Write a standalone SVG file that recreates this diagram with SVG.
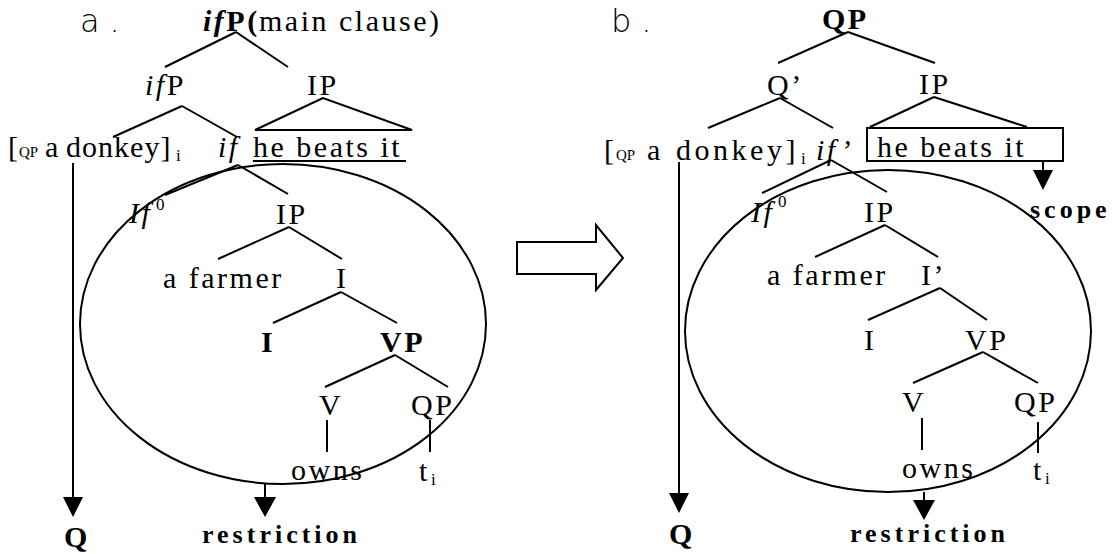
<svg xmlns="http://www.w3.org/2000/svg" width="1114" height="554" viewBox="0 0 1114 554">
<defs>
<style>
.t{font-family:"Liberation Serif",serif;font-size:30px;letter-spacing:2.5px;fill:#000}
.bd{font-weight:bold}
.it{font-style:italic}
.sm{font-size:15px;letter-spacing:0}
.sub{font-size:17px;letter-spacing:0}
.bl{font-family:"Liberation Serif",serif;font-size:26px;letter-spacing:4px;font-weight:bold;fill:#000}
.lab{font-family:"DejaVu Sans","Liberation Sans",sans-serif;font-size:32px;font-weight:200;letter-spacing:10px;fill:#000}
.ln{stroke:#000;stroke-width:2;fill:none}
.hd{fill:#000;stroke:none}
</style>
</defs>
<rect width="1114" height="554" fill="#fff"/>

<g id="connectors">
<!-- panel a -->
<line class="ln" x1="236" y1="32" x2="165" y2="67"/>
<line class="ln" x1="236" y1="32" x2="288" y2="67"/>
<line class="ln" x1="182" y1="106" x2="113" y2="137"/>
<line class="ln" x1="182" y1="106" x2="237" y2="137"/>
<polygon class="ln" points="323,98 255,130 412,130"/>
<line class="ln" x1="238" y1="165" x2="165" y2="195"/>
<line class="ln" x1="238" y1="165" x2="288" y2="194"/>
<line class="ln" x1="289" y1="227" x2="218" y2="259"/>
<line class="ln" x1="289" y1="227" x2="342" y2="259"/>
<line class="ln" x1="341" y1="292" x2="273" y2="323"/>
<line class="ln" x1="341" y1="292" x2="397" y2="323"/>
<line class="ln" x1="395" y1="355" x2="325" y2="387"/>
<line class="ln" x1="395" y1="355" x2="448" y2="387"/>
<line class="ln" x1="327" y1="420" x2="327" y2="452"/>
<line class="ln" x1="430" y1="420" x2="430" y2="452"/>
<line class="ln" x1="73" y1="163" x2="73" y2="498"/>
<polygon class="hd" points="63,497 83,497 73,517"/>
<line class="ln" x1="265" y1="484" x2="265" y2="498"/>
<polygon class="hd" points="254,497 276,497 265,517"/>
<ellipse class="ln" cx="283" cy="324" rx="203" ry="160"/>
<!-- transition arrow -->
<polygon class="ln" points="517,242 596,242 596,225 623,258 596,290 596,274 517,274"/>
<!-- panel b -->
<line class="ln" x1="848" y1="32" x2="778" y2="63"/>
<line class="ln" x1="848" y1="32" x2="935" y2="63"/>
<line class="ln" x1="780" y1="98" x2="708" y2="128"/>
<line class="ln" x1="780" y1="98" x2="833" y2="128"/>
<line class="ln" x1="934" y1="97" x2="870" y2="127"/>
<line class="ln" x1="934" y1="97" x2="1027" y2="127"/>
<rect class="ln" x="867" y="128" width="196" height="33"/>
<line class="ln" x1="831" y1="160" x2="762" y2="193"/>
<line class="ln" x1="831" y1="160" x2="887" y2="192"/>
<line class="ln" x1="885" y1="225" x2="815" y2="257"/>
<line class="ln" x1="885" y1="225" x2="938" y2="257"/>
<line class="ln" x1="940" y1="288" x2="868" y2="320"/>
<line class="ln" x1="940" y1="288" x2="987" y2="320"/>
<line class="ln" x1="983" y1="352" x2="913" y2="383"/>
<line class="ln" x1="983" y1="352" x2="1038" y2="383"/>
<line class="ln" x1="922" y1="418" x2="922" y2="450"/>
<line class="ln" x1="1038" y1="422" x2="1038" y2="453"/>
<line class="ln" x1="679" y1="162" x2="679" y2="494"/>
<polygon class="hd" points="669,493 689,493 679,513"/>
<line class="ln" x1="924" y1="492" x2="924" y2="501"/>
<polygon class="hd" points="913,500 935,500 924,520"/>
<line class="ln" x1="1043" y1="161" x2="1043" y2="171"/>
<polygon class="hd" points="1033,170 1053,170 1043,190"/>
<ellipse class="ln" cx="888" cy="331" rx="203" ry="161"/>
</g>

<!-- panel a nodes -->
<g id="a-label"><text class="lab" x="80" y="32">a.</text></g>
<g id="a-root"><text class="t" x="203" y="31"><tspan class="bd it">if</tspan><tspan class="bd">P(</tspan><tspan x="259">main clause)</tspan></text></g>
<g id="a-ifP"><text class="t" x="145" y="95"><tspan class="it">if</tspan>P</text></g>
<g id="a-IP-top"><text class="t" x="307" y="95">IP</text></g>
<g id="a-qp"><text class="t" x="8" y="157">[<tspan class="sm" x="19">QP</tspan><tspan x="45">a</tspan><tspan x="66" textLength="107" lengthAdjust="spacing">donkey]</tspan></text><text class="t sub" x="176" y="161">i</text></g>
<g id="a-if"><text class="t it" x="218" y="157">if</text></g>
<g id="a-clause"><text class="t" x="253" y="157">he beats it</text><line class="ln" x1="253" y1="161" x2="406" y2="161"/></g>
<g id="a-If0"><text class="t it" x="129" y="223">If<tspan class="sub" x="156" y="210" font-style="normal">0</tspan></text></g>
<g id="a-IP"><text class="t" x="276" y="224">IP</text></g>
<g id="a-farmer"><text class="t" x="163" y="288">a farmer</text></g>
<g id="a-Ibar"><text class="t" x="336" y="288">I</text></g>
<g id="a-I"><text class="t bd" x="261" y="352">I</text></g>
<g id="a-VP"><text class="t bd" x="380" y="352">VP</text></g>
<g id="a-V"><text class="t" x="319" y="415">V</text></g>
<g id="a-QP"><text class="t" x="411" y="415">QP</text></g>
<g id="a-owns"><text class="t" x="291" y="480">owns</text></g>
<g id="a-trace"><text class="t" x="419" y="481">t<tspan class="sub" x="431" dy="4">i</tspan></text></g>
<g id="a-Q"><text class="t bd" x="64" y="547">Q</text></g>
<g id="a-restriction"><text class="bl" x="202" y="543">restriction</text></g>

<!-- panel b nodes -->
<g id="b-label"><text class="lab" x="611" y="32">b.</text></g>
<g id="b-root"><text class="t bd" x="822" y="29">QP</text></g>
<g id="b-Qbar"><text class="t" x="767" y="95">Q’</text></g>
<g id="b-IP-top"><text class="t" x="919" y="94">IP</text></g>
<g id="b-qp"><text class="t" x="604" y="160">[<tspan class="sm" x="616">QP</tspan><tspan x="647">a</tspan><tspan x="676" textLength="122" lengthAdjust="spacing">donkey]</tspan></text><text class="t sub" x="801" y="164">i</text></g>
<g id="b-if"><text class="t it" x="816" y="160">if’</text></g>
<g id="b-clause"><text class="t" x="877" y="157">he beats it</text></g>
<g id="b-scope"><text class="bl" x="1030" y="218">scope</text></g>
<g id="b-If0"><text class="t it" x="751" y="222">If<tspan class="sub" x="778" y="207" font-style="normal">0</tspan></text></g>
<g id="b-IP"><text class="t" x="864" y="222">IP</text></g>
<g id="b-farmer"><text class="t" x="767" y="285">a farmer</text></g>
<g id="b-Ibar"><text class="t" x="921" y="285">I’</text></g>
<g id="b-I"><text class="t" x="864" y="350">I</text></g>
<g id="b-VP"><text class="t" x="965" y="350">VP</text></g>
<g id="b-V"><text class="t" x="902" y="412">V</text></g>
<g id="b-QP"><text class="t" x="1014" y="412">QP</text></g>
<g id="b-owns"><text class="t" x="902" y="478">owns</text></g>
<g id="b-trace"><text class="t" x="1033" y="480">t<tspan class="sub" x="1045" dy="4">i</tspan></text></g>
<g id="b-Q"><text class="t bd" x="669" y="544">Q</text></g>
<g id="b-restriction"><text class="bl" x="850" y="542">restriction</text></g>
</svg>
